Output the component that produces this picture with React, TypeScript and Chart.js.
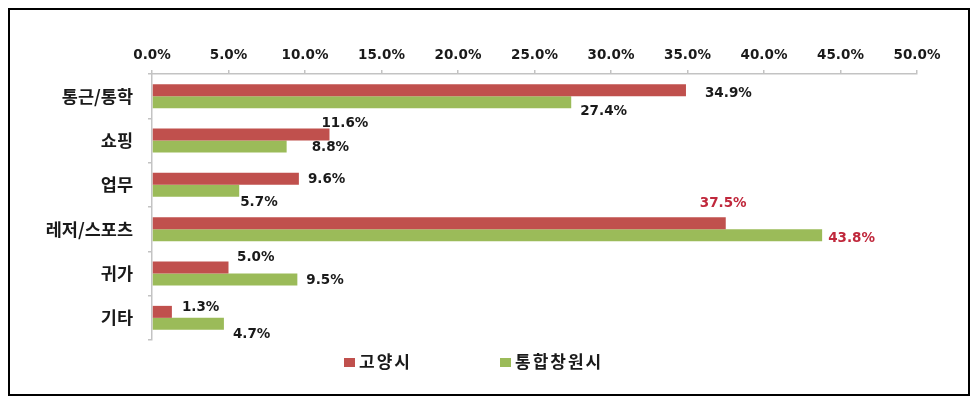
import React, { useEffect, useRef } from "react";
import { Chart, registerables } from "chart.js";

Chart.register(...registerables);

const categories = ["통근/통학", "쇼핑", "업무", "레저/스포츠", "귀가", "기타"];
const seriesNames = ["고양시", "통합창원시"];
const goyangValues = [34.9, 11.6, 9.6, 37.5, 5.0, 1.3];
const changwonValues = [27.4, 8.8, 5.7, 43.8, 9.5, 4.7];
const axisMin = 0;
const axisMax = 50;
const axisStep = 5;
const highlightIndex = 3;

// label placement offsets (dx from bar end, dy from bar centre)
const goyangLabelOffsets = [[19, 3], [-8, -11.5], [9, 1], [-26, -20], [8.5, -10.5], [10, -4]];
const changwonLabelOffsets = [[9, 9], [25, 1.5], [1, 11.5], [6, 3], [9, 1], [9, 10.5]];

const RED = "#C0504D";
const GREEN = "#9BBB59";
const AXIS = "#c3c3c3";
const TEXT = "#1a1a1a";
const HILITE = "#C0283C";
const NUM_FONT = "'DejaVu Sans', 'Noto Sans CJK KR', sans-serif";
const KR_FONT = "'Noto Sans CJK KR', 'DejaVu Sans', sans-serif";

const valueLabelPlugin = {
  id: "valueLabels",
  afterDatasetsDraw(chart: any) {
    const ctx = chart.ctx;
    const offsets = [goyangLabelOffsets, changwonLabelOffsets];
    ctx.save();
    ctx.font = `bold 13.5px ${NUM_FONT}`;
    ctx.textAlign = "left";
    ctx.textBaseline = "middle";
    chart.data.datasets.forEach((ds: any, di: number) => {
      const meta = chart.getDatasetMeta(di);
      meta.data.forEach((el: any, i: number) => {
        const [dx, dy] = offsets[di][i];
        ctx.fillStyle = i === highlightIndex ? HILITE : TEXT;
        ctx.fillText(Number(ds.data[i]).toFixed(1) + "%", el.x + dx, el.y + dy);
      });
    });
    ctx.restore();
  },
};

const legendPlugin = {
  id: "customLegend",
  afterDraw(chart: any) {
    const ctx = chart.ctx;
    const positions = [334, 490];
    ctx.save();
    ctx.font = `bold 17px ${KR_FONT}`;
    (ctx as any).letterSpacing = "2px";
    ctx.textAlign = "left";
    ctx.textBaseline = "middle";
    chart.data.datasets.forEach((ds: any, di: number) => {
      const x = positions[di];
      ctx.fillStyle = ds.backgroundColor;
      ctx.fillRect(x, 348, 11, 9);
      ctx.fillStyle = TEXT;
      ctx.fillText(ds.label, x + 15, 352);
    });
    ctx.restore();
  },
};

export default function App() {
  const canvasRef = useRef<HTMLCanvasElement | null>(null);

  useEffect(() => {
    if (!canvasRef.current) return;
    const chart = new Chart(canvasRef.current, {
      type: "bar",
      data: {
        labels: categories,
        datasets: [
          { label: seriesNames[0], data: goyangValues, backgroundColor: RED, borderWidth: 0 },
          { label: seriesNames[1], data: changwonValues, backgroundColor: GREEN, borderWidth: 0 },
        ],
      },
      options: {
        indexAxis: "y",
        responsive: false,
        animation: false,
        devicePixelRatio: 1,
        layout: { padding: { left: 0, top: 0, right: 51, bottom: 54 } },
        datasets: { bar: { categoryPercentage: 0.54, barPercentage: 1 } },
        plugins: {
          legend: { display: false },
          tooltip: { enabled: false },
        },
        scales: {
          x: {
            position: "top",
            min: axisMin,
            max: axisMax,
            afterFit(scale: any) {
              scale.height = 64;
            },
            ticks: {
              stepSize: axisStep,
              padding: 6,
              color: TEXT,
              font: { family: NUM_FONT, size: 13.5, weight: "bold" },
              callback: (v: any) => Number(v).toFixed(1) + "%",
            },
            grid: { drawOnChartArea: false, drawTicks: true, tickLength: 4, color: AXIS, lineWidth: 1.5 },
            border: { display: true, color: AXIS, width: 1.5 },
          },
          y: {
            afterFit(scale: any) {
              scale.width = 142;
            },
            ticks: {
              padding: 15,
              color: TEXT,
              font: { family: KR_FONT, size: 17.5, weight: "bold" },
            },
            grid: { drawOnChartArea: false, drawTicks: true, tickLength: 4, color: AXIS, lineWidth: 1.5, offset: true },
            border: { display: true, color: AXIS, width: 1.5 },
          },
        },
      },
      plugins: [valueLabelPlugin, legendPlugin],
    } as any);
    return () => chart.destroy();
  }, []);

  return (
    <div
      style={{
        width: 962,
        height: 388,
        border: "2px solid #000",
        boxSizing: "border-box",
        background: "#fff",
      }}
    >
      <canvas ref={canvasRef} width={958} height={384} style={{ display: "block", width: 958, height: 384 }} />
    </div>
  );
}
